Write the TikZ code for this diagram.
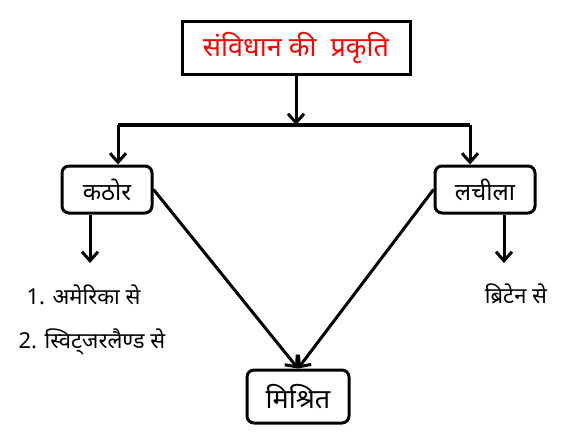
\documentclass[tikz,border=0pt]{standalone}
\usepackage{fontspec}
\newfontfamily\hindi[Script=Devanagari]{Noto Sans}
\usetikzlibrary{arrows.meta, positioning}

\begin{document}
\begin{tikzpicture}[
    x=1pt, y=-1pt,
    % Define title box style
    title box/.style={
        draw, % Draw border
        rectangle, % Sharp corners
        line width=3pt, % Thick border
        minimum width=228pt, % Box width
        minimum height=53pt, % Box height
        text=red, % Red title
        font=\hindi\fontsize{27}{31}\selectfont
      },
    % Define rounded box style
    round box/.style={
        draw, % Draw border
        rectangle, % Rectangle shape
        rounded corners=7pt, % Round the corners
        line width=3pt, % Thick border
        minimum height=47pt, % Box height
        font=\hindi\fontsize{24}{28}\selectfont
      },
    % Define plain text style
    list text/.style={
        font=\hindi\fontsize{22}{26}\selectfont,
        inner sep=0pt
      },
    % Define arrow style
    ->, % Default arrow direction
    >={Straight Barb[length=9pt, width=16pt, line width=3pt]}, % Arrow type
    line width=3pt % Line thickness
  ]
  \useasboundingbox (0,0) rectangle (583,441);

  % Define nodes
  \node[title box] (Nature) at (296, 48.5) {संविधान की\ \ प्रकृति}; % Title at the top
  \node[round box, minimum width=90pt] (Rigid) at (107, 189.5) {कठोर}; % Left box
  \node[round box, minimum width=100pt] (Flexible) at (485, 189.5) {लचीला}; % Right box
  \node[round box, minimum width=102pt, minimum height=53pt, font=\hindi\fontsize{27}{31}\selectfont] (Mixed) at (298, 396.5) {मिश्रित}; % Bottom box

  % Text below the boxes
  \node[list text, anchor=west] (America) at (25, 295) {1. अमेरिका से};
  \node[list text, anchor=west] (Swiss) at (17, 342) {\textbf{2}. स्विट्^^^^200cजरलैण्^^^^200dड से};
  \node[list text] (Britain) at (516, 294) {ब्रिटेन से};

  % Branch points
  \coordinate (Split) at (296, 125);
  \coordinate (SplitLeft) at (118, 125);
  \coordinate (SplitRight) at (470, 125);
  \coordinate (RigidEnd) at (90, 263);
  \coordinate (FlexibleEnd) at (504, 263);

  % Draw arrows
  \draw[->] (Nature) -- (Split);
  \draw[-] (SplitLeft) -- (SplitRight);
  \draw[->] (SplitLeft) -- (SplitLeft |- Rigid.north);
  \draw[->] (SplitRight) -- (SplitRight |- Flexible.north);

  % Arrows to the examples
  \draw[->] (RigidEnd |- Rigid.south) -- (RigidEnd);
  \draw[->] (FlexibleEnd |- Flexible.south) -- (FlexibleEnd);

  % Both kinds meet in the mixed box
  \draw[->] (Rigid.east) -- (Mixed.north);
  \draw[->] (Flexible.west) -- (Mixed.north);

\end{tikzpicture}
\end{document}
